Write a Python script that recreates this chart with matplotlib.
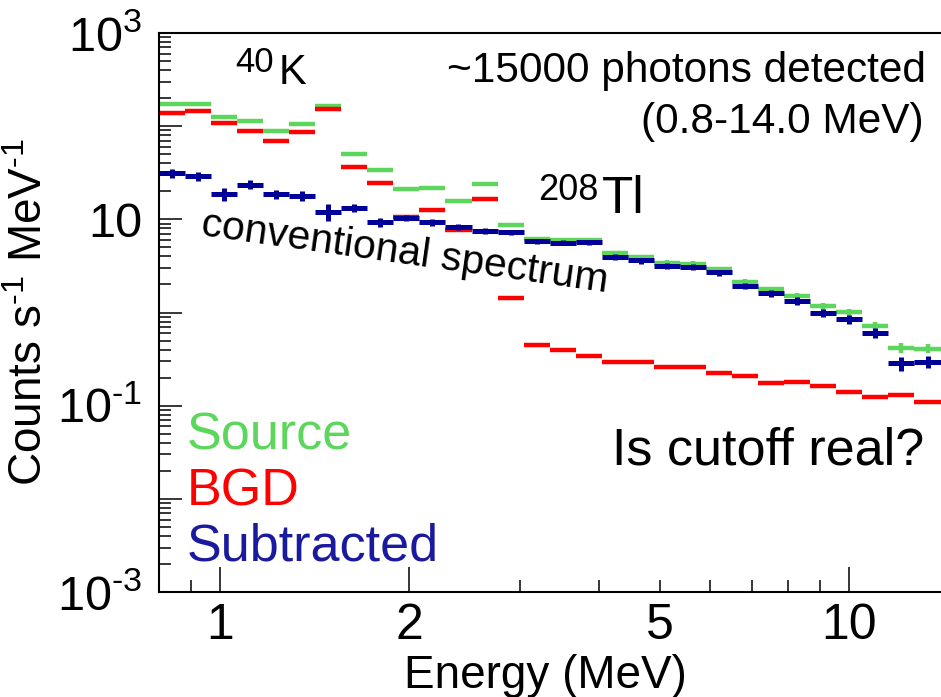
import matplotlib.pyplot as plt
import numpy as np
from matplotlib.ticker import FixedLocator, FuncFormatter, LogLocator, NullFormatter

plt.rcParams["font.family"] = ["Liberation Sans", "DejaVu Sans"]
plt.rcParams["mathtext.fontset"] = "custom"
plt.rcParams["mathtext.rm"] = "Liberation Sans"
plt.rcParams["mathtext.it"] = "Liberation Sans:italic"
plt.rcParams["mathtext.bf"] = "Liberation Sans:bold"

# 30 log bins between 0.8 and 14 MeV
bin_edges = [
    0.800, 0.880, 0.968, 1.065, 1.171, 1.288, 1.417, 1.559, 1.715, 1.886,
    2.075, 2.282, 2.511, 2.762, 3.038, 3.342, 3.676, 4.044, 4.448, 4.893,
    5.382, 5.920, 6.512, 7.163, 7.880, 8.668, 9.535, 10.49, 11.54, 12.69, 14.0,
]

# counts s^-1 MeV^-1
source = [
    171, 172, 126, 113, 88, 105, 164, 50.3, 33.9, 21.0,
    21.7, 15.9, 24.0, 8.7, 6.09, 5.94, 6.05, 4.31, 3.93, 3.42,
    3.34, 2.92, 2.14, 1.77, 1.50, 1.16, 1.01, 0.725, 0.417, 0.41,
]
source_err = [
    5.1, 5.1, 3.7, 3.4, 2.6, 3.1, 4.9, 1.5, 1.0, 0.62,
    0.65, 0.47, 0.71, 0.32, 0.23, 0.22, 0.22, 0.27, 0.24, 0.21,
    0.20, 0.18, 0.16, 0.13, 0.11, 0.10, 0.088, 0.072, 0.052, 0.046,
]
bgd = [
    140, 144, 107, 89, 69.5, 87, 151, 36.8, 24.6, 10.6,
    12.5, 7.62, 16.4, 1.43, 0.449, 0.40, 0.345, 0.297, 0.297, 0.258,
    0.263, 0.224, 0.210, 0.174, 0.178, 0.164, 0.139, 0.125, 0.131, 0.109,
]
bgd_err = [
    3.5, 3.6, 2.7, 2.2, 1.7, 2.2, 3.7, 0.91, 0.61, 0.26,
    0.31, 0.19, 0.41, 0.053, 0.022, 0.020, 0.017, 0.015, 0.015, 0.013,
    0.013, 0.011, 0.010, 0.0086, 0.0088, 0.0081, 0.0069, 0.0062, 0.0065, 0.0054,
]
subtracted = [
    31.2, 29.2, 18.7, 23.6, 18.7, 17.8, 12.1, 13.2, 9.35, 10.3,
    9.29, 8.28, 7.49, 7.31, 5.80, 5.61, 5.70, 3.93, 3.62, 3.18,
    3.10, 2.69, 1.92, 1.61, 1.32, 0.99, 0.855, 0.60, 0.285, 0.297,
]
subtracted_err = [
    3.6, 3.3, 2.8, 2.6, 2.2, 2.2, 2.5, 1.3, 1.1, 0.77,
    0.80, 0.62, 0.56, 0.45, 0.36, 0.35, 0.35, 0.29, 0.27, 0.24,
    0.23, 0.20, 0.14, 0.14, 0.13, 0.10, 0.095, 0.074, 0.05, 0.044,
]

GREEN = "#5cd65c"
RED = "#ff0000"
BLUE = "#000099"


def draw_hist(ax, values, errors, color, lw):
    edges = np.array(bin_edges)
    lo, hi = edges[:-1], edges[1:]
    centers = np.sqrt(lo * hi)
    ax.errorbar(
        centers,
        values,
        xerr=[centers - lo, hi - centers],
        yerr=errors,
        fmt="none",
        ecolor=color,
        elinewidth=lw,
        capsize=0,
    )


def ytick_label(v, _):
    e = int(round(np.log10(v)))
    if e % 2 == 0:
        return ""
    if e == 1:
        return "10"
    if e < 0:
        return rf"$\mathregular{{10^{{\text{{-}}{-e}}}}}$"
    return rf"$\mathregular{{10^{{{e}}}}}$"


fig = plt.figure(figsize=(9.41, 6.97), dpi=100)
ax = fig.add_axes([159 / 941, 105 / 697, 782 / 941, 559 / 697])

draw_hist(ax, source, source_err, GREEN, 3.2)
draw_hist(ax, bgd, bgd_err, RED, 3.2)
draw_hist(ax, subtracted, subtracted_err, BLUE, 3.6)

ax.set_xscale("log")
ax.set_yscale("log")
ax.set_xlim(0.8, 14)
ax.set_ylim(1e-3, 1e3)

ax.xaxis.set_major_locator(FixedLocator([1, 2, 10]))
ax.xaxis.set_minor_locator(FixedLocator([0.9, 3, 4, 5, 6, 7, 8, 9]))
ax.xaxis.set_major_formatter(FuncFormatter(lambda v, _: f"{v:g}"))
ax.xaxis.set_minor_formatter(FuncFormatter(lambda v, _: "5" if abs(v - 5) < 1e-9 else ""))

ax.yaxis.set_major_locator(LogLocator(base=10, numticks=20))
ax.yaxis.set_minor_locator(LogLocator(base=10, subs=np.arange(2, 10), numticks=20))
ax.yaxis.set_major_formatter(FuncFormatter(ytick_label))
ax.yaxis.set_minor_formatter(NullFormatter())

ax.tick_params(which="both", direction="in", top=False, right=False, width=1.1)
ax.tick_params(axis="x", which="major", length=18, pad=8, labelsize=36)
ax.tick_params(axis="x", which="minor", length=9, pad=8, labelsize=36)
ax.tick_params(axis="y", which="major", length=16.5, pad=12, labelsize=35)
ax.tick_params(axis="y", which="minor", length=8.5)

ax.spines["right"].set_visible(False)
for side in ("left", "bottom", "top"):
    ax.spines[side].set_linewidth(1.5)

fig.text(30 / 941, 1 - 312 / 697, r"Counts s$^{\text{-}1}$ MeV$^{\text{-}1}$",
         rotation=90, ha="center", va="center", fontsize=33)
fig.text(545 / 941, 9 / 697, "Energy (MeV)", ha="center", va="baseline", fontsize=33)

# isotope lines
ax.text(0.147, 0.930, "40", transform=ax.transAxes, ha="right", va="baseline", fontsize=25)
ax.text(0.1535, 0.908, "K", transform=ax.transAxes, ha="left", va="baseline", fontsize=30)
ax.text(0.5614, 0.7013, "208", transform=ax.transAxes, ha="right", va="baseline", fontsize=26)
ax.text(0.5665, 0.678, "Tl", transform=ax.transAxes, ha="left", va="baseline", fontsize=37)

ax.text(0.981, 0.9123, "~15000 photons detected", transform=ax.transAxes,
        ha="right", va="baseline", fontsize=30.5)
ax.text(0.978, 0.821, "(0.8-14.0 MeV)", transform=ax.transAxes,
        ha="right", va="baseline", fontsize=30.5)
ax.text(0.0524, 0.6386, "conventional spectrum", transform=ax.transAxes,
        ha="left", va="baseline", rotation=-8, rotation_mode="anchor", fontsize=29.5)
ax.text(0.978, 0.2272, "Is cutoff real?", transform=ax.transAxes,
        ha="right", va="baseline", fontsize=37.5)

# series labels
ax.text(0.0358, 0.2558, "Source", color=GREEN, transform=ax.transAxes,
        ha="left", va="baseline", fontsize=37.5)
ax.text(0.0358, 0.1556, "BGD", color=RED, transform=ax.transAxes,
        ha="left", va="baseline", fontsize=37.5)
ax.text(0.0358, 0.0555, "Subtracted", color="#1a1a9e", transform=ax.transAxes,
        ha="left", va="baseline", fontsize=37.5)

fig.savefig("out.png", dpi=100)
